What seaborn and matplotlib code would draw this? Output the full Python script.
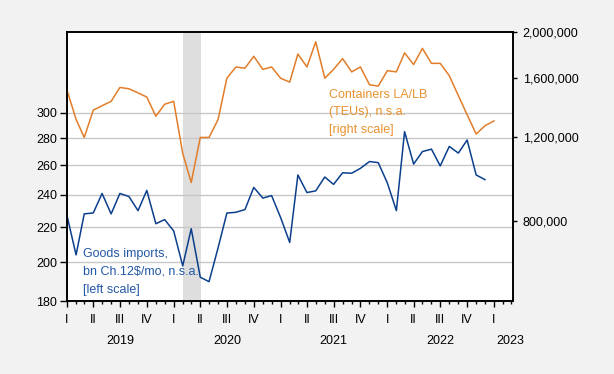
import pandas as pd
import numpy as np
import seaborn as sns
import matplotlib.pyplot as plt
import matplotlib.dates as mdates
import matplotlib.transforms as mtransforms
from matplotlib.ticker import FixedLocator, FuncFormatter, NullLocator

plt.rcParams['font.family'] = ['Liberation Sans', 'DejaVu Sans']

# goods imports, bn Ch.12$/mo, Jan 2019 - Dec 2022
imports = [227, 204, 228, 228.6, 241, 228, 241, 239, 230, 243, 222, 224.5,
           217.7, 198, 219, 192, 189.7, 208, 228.5, 229, 230.7, 245, 238, 239.6,
           225.7, 211, 253.4, 241.6, 242.7, 252, 247, 254.9, 254.6, 258, 262.8, 262,
           248, 230, 285, 261, 270, 271.8, 259.7, 273.8, 268.9, 278.6, 253.4, 250.2]

# containers LA/LB, TEUs, Jan 2019 - Jan 2023
containers = [1510000, 1310000, 1200000, 1370000, 1400000, 1430000, 1530000, 1520000, 1490000, 1460000, 1330000, 1410000,
              1430000, 1110000, 964000, 1200000, 1200000, 1310000, 1600000, 1690000, 1680000, 1780000, 1670000, 1690000,
              1600000, 1570000, 1800000, 1690000, 1910000, 1600000, 1670000, 1760000, 1650000, 1690000, 1550000, 1540000,
              1660000, 1650000, 1810000, 1710000, 1850000, 1720000, 1720000, 1620000, 1470000, 1340000, 1220000, 1270000,
              1300000]

left_ticks = [180, 200, 220, 240, 260, 280, 300]
right_ticks = [800000, 1200000, 1600000, 2000000]
quarter_names = {1: 'I', 4: 'II', 7: 'III', 10: 'IV'}
years = ['2019', '2020', '2021', '2022', '2023']
year_pos = ['2019-07-01', '2020-07-01', '2021-07-01', '2022-07-01', '2023-02-27']

imp_df = pd.DataFrame({'date': pd.date_range('2019-01-01', periods=len(imports), freq='MS'),
                       'value': imports})
con_df = pd.DataFrame({'date': pd.date_range('2019-01-01', periods=len(containers), freq='MS'),
                       'value': containers})

blue = '#0B3F8C'
orange = '#E27D2A'

fig = plt.figure(figsize=(6.14, 3.74), dpi=100, facecolor='#F2F2F2')
ax = fig.add_axes([67 / 614, 1 - 301 / 374, 446 / 614, 269 / 374])
ax.set_facecolor('white')
ax2 = ax.twinx()

ax.axvspan(pd.Timestamp('2020-02-01'), pd.Timestamp('2020-04-05'), color='#DEDEDE', zorder=0, lw=0)

sns.lineplot(data=imp_df, x='date', y='value', ax=ax, color=blue, linewidth=1.1)
sns.lineplot(data=con_df, x='date', y='value', ax=ax2, color=orange, linewidth=1.1)

ax.set_xlim(pd.Timestamp('2019-01-01'), pd.Timestamp('2023-03-07'))
ax.xaxis.set_major_locator(mdates.MonthLocator(bymonth=[1, 4, 7, 10]))
ax.xaxis.set_minor_locator(mdates.MonthLocator())
ax.xaxis.set_major_formatter(FuncFormatter(lambda v, p: quarter_names[mdates.num2date(v).month]))

# left log scale
ax.set_yscale('log')
ax.set_ylim(180, 373.5)
ax.yaxis.set_major_locator(FixedLocator(left_ticks))
ax.yaxis.set_minor_locator(NullLocator())
ax.yaxis.set_major_formatter(FuncFormatter(lambda v, p: f'{v:.0f}'))
ax.grid(axis='y', color='#C8C8C8', linewidth=1.0)
ax.set_axisbelow(True)

# right log scale
ax2.set_yscale('log')
ax2.set_ylim(542000, 2003000)
ax2.yaxis.set_major_locator(FixedLocator(right_ticks))
ax2.yaxis.set_minor_locator(NullLocator())
ax2.yaxis.set_major_formatter(FuncFormatter(lambda v, p: f'{v:,.0f}'))

ax.set_xlabel('')
ax.set_ylabel('')
ax2.set_ylabel('')

ax.tick_params(axis='x', which='major', length=4.5, width=1, pad=5, labelsize=9, colors='black', top=False)
ax.tick_params(axis='x', which='minor', length=2.5, width=1, top=False)
ax.tick_params(axis='y', which='major', length=5, width=1, pad=2, labelsize=9, right=False)
ax.tick_params(axis='y', which='minor', left=False, right=False)
ax2.tick_params(axis='y', which='major', length=3, width=1, pad=4, labelsize=9, left=False)
ax2.tick_params(axis='y', which='minor', left=False, right=False)

for a in (ax, ax2):
    for s in a.spines.values():
        s.set_color('black')
        s.set_linewidth(1.2)

trans = mtransforms.blended_transform_factory(ax.transData, ax.transAxes)
for y, pos in zip(years, year_pos):
    ax.text(pd.Timestamp(pos), -0.148, y, transform=trans, ha='center', va='center', fontsize=9)

ax.text(0.035, 0.109, 'Goods imports,\nbn Ch.12$/mo, n.s.a.\n[left scale]', transform=ax.transAxes,
        color='#2458A8', fontsize=9, ha='left', va='center', linespacing=1.65)
ax2.text(0.588, 0.701, 'Containers LA/LB\n(TEUs), n.s.a.\n[right scale]', transform=ax.transAxes,
         color='#E8922E', fontsize=9, ha='left', va='center', linespacing=1.65)

fig.savefig('out.png', dpi=100, facecolor=fig.get_facecolor())
